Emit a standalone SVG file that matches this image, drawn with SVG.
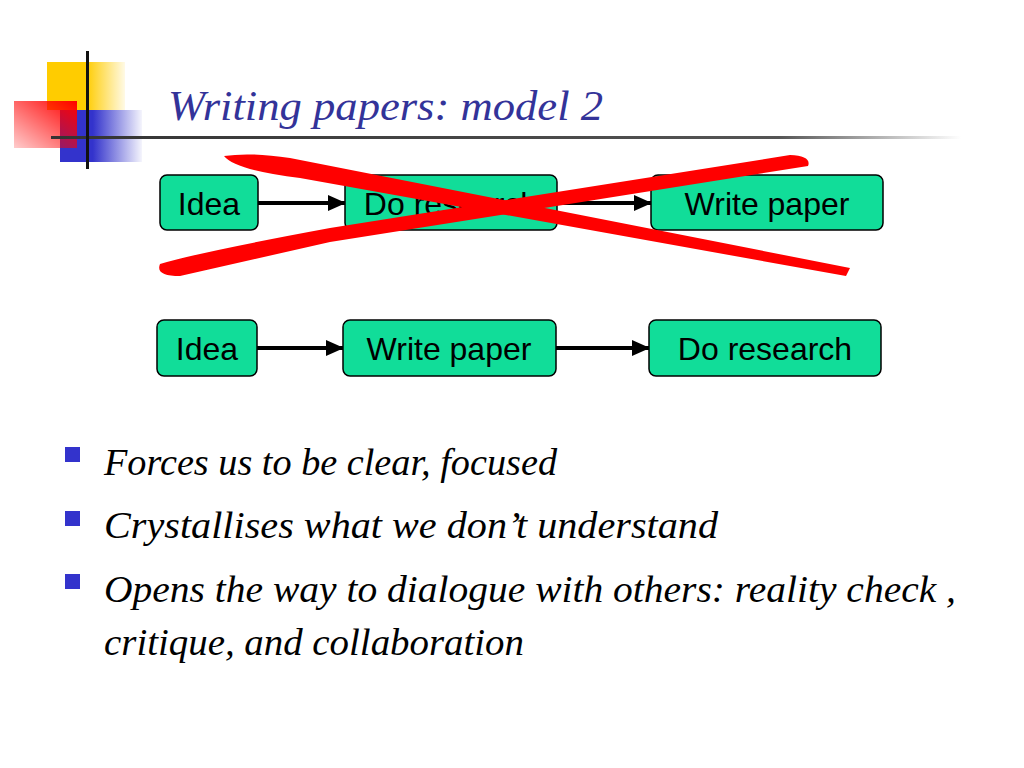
<svg xmlns="http://www.w3.org/2000/svg" width="1024" height="768" viewBox="0 0 1024 768">
<style>
.box{fill:#11dd99;stroke:#000;stroke-width:1.5}
.bt{font-family:"Liberation Sans",Arial,sans-serif;font-size:32px;text-anchor:middle;fill:#000}
.bl{font-family:"Liberation Serif",serif;font-style:italic;font-size:37px;fill:#000}
.sq{fill:#3333cc}
</style>
<defs>
<marker id="ah" markerWidth="18" markerHeight="16" refX="17" refY="8" orient="auto" markerUnits="userSpaceOnUse"><path d="M0,0 L18,8 L0,16 z" fill="#000"/></marker>
<linearGradient id="gy" x1="0" x2="1"><stop offset="0.5" stop-color="#ffcc00"/><stop offset="1" stop-color="#ffcc00" stop-opacity="0.1"/></linearGradient>
<linearGradient id="gb" x1="0" x2="1"><stop offset="0.4" stop-color="#3333cc"/><stop offset="1" stop-color="#3333cc" stop-opacity="0.05"/></linearGradient>
<linearGradient id="gr" x1="1" y1="0" x2="0" y2="1"><stop offset="0" stop-color="#ff0000"/><stop offset="1" stop-color="#ff0000" stop-opacity="0.2"/></linearGradient>
<linearGradient id="gl" x1="0" x2="1"><stop offset="0" stop-color="#333"/><stop offset="0.8" stop-color="#555"/><stop offset="1" stop-color="#555" stop-opacity="0"/></linearGradient>
</defs>
<g id="deco">
<rect x="47" y="62" width="78" height="48" fill="url(#gy)"/>
<rect x="60" y="110" width="82" height="52" fill="url(#gb)"/>
<rect x="14" y="101" width="63" height="47" fill="url(#gr)"/>
<rect x="51" y="136" width="910" height="3" fill="url(#gl)"/>
<rect x="86" y="51" width="3" height="118" fill="#111"/>
</g>
<text x="168" y="120" font-family="Liberation Serif,serif" font-style="italic" font-size="42" fill="#333399" textLength="435" lengthAdjust="spacingAndGlyphs">Writing papers: model 2</text>
<g id="connectors" stroke="#000" stroke-width="4" fill="none">
<line x1="258" y1="203" x2="345" y2="203" marker-end="url(#ah)"/>
<line x1="557" y1="203" x2="651" y2="203" marker-end="url(#ah)"/>
<line x1="257" y1="348" x2="343" y2="348" marker-end="url(#ah)"/>
<line x1="556" y1="348" x2="649" y2="348" marker-end="url(#ah)"/>
</g>
<g id="n1"><rect class="box" x="160" y="175" width="98" height="55" rx="7"/><text class="bt" x="209" y="215">Idea</text></g>
<g id="n2"><rect class="box" x="345" y="175" width="212" height="55" rx="7"/><text class="bt" x="451" y="215">Do research</text></g>
<g id="n3"><rect class="box" x="651" y="175" width="232" height="55" rx="7"/><text class="bt" x="767" y="215">Write paper</text></g>
<g id="n4"><rect class="box" x="157" y="320" width="100" height="56" rx="7"/><text class="bt" x="207" y="360">Idea</text></g>
<g id="n5"><rect class="box" x="343" y="320" width="213" height="56" rx="7"/><text class="bt" x="449" y="360">Write paper</text></g>
<g id="n6"><rect class="box" x="649" y="320" width="232" height="56" rx="7"/><text class="bt" x="765" y="360">Do research</text></g>
<g id="cross" fill="#ff0000">
<path d="M224,156 Q250,152 290,158 L850,268 L846,276 L300,178 Q235,170 224,156 Z"/>
<path d="M160,264 Q200,252 330,228 L790,155 Q812,156 808,166 L330,242 L180,276 Q155,276 160,264 Z"/>
</g>
<g id="bullets">
<rect class="sq" x="65" y="447" width="15" height="15"/>
<rect class="sq" x="65" y="511" width="15" height="15"/>
<rect class="sq" x="65" y="574" width="15" height="15"/>
<text class="bl" x="104" y="475" textLength="453" lengthAdjust="spacingAndGlyphs">Forces us to be clear, focused</text>
<text class="bl" x="104" y="538" textLength="614" lengthAdjust="spacingAndGlyphs">Crystallises what we don’t understand</text>
<text class="bl" x="104" y="602" textLength="852" lengthAdjust="spacingAndGlyphs">Opens the way to dialogue with others: reality check ,</text>
<text class="bl" x="104" y="655" textLength="420" lengthAdjust="spacingAndGlyphs">critique, and collaboration</text>
</g>
</svg>
